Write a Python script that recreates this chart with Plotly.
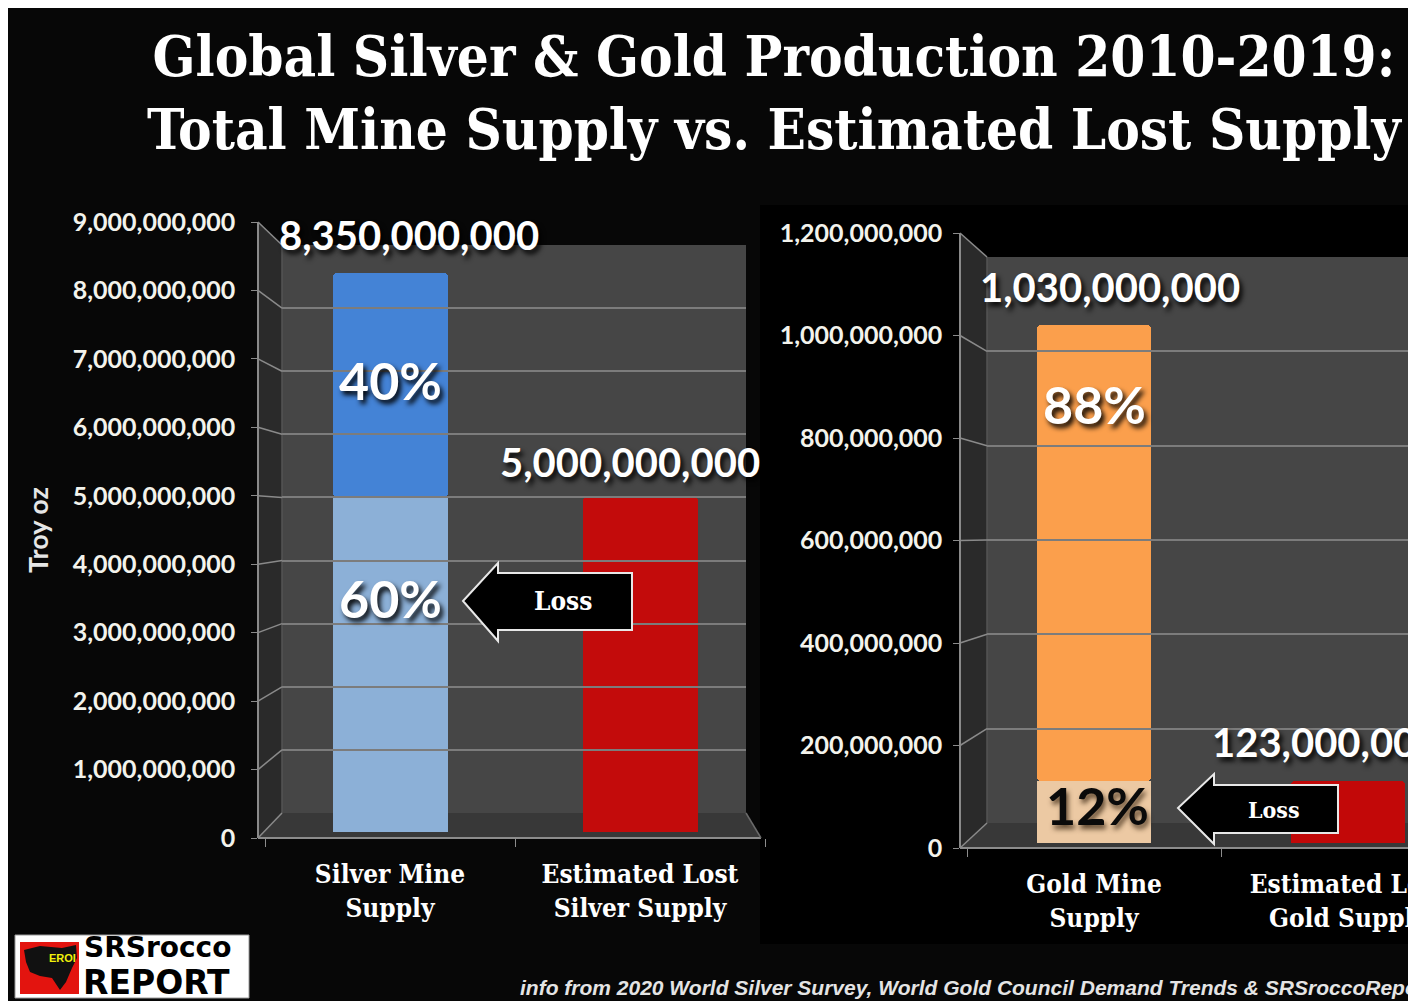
import plotly.graph_objects as go

W, H = 1408, 1001

# ---------------- data ----------------
title_lines = ["Global Silver & Gold Production 2010-2019:",
               "Total Mine Supply vs. Estimated Lost Supply"]
silver_categories = ["Silver Mine<br>Supply", "Estimated Lost<br>Silver Supply"]
gold_categories = ["Gold Mine<br>Supply", "Estimated Lost<br>Gold Supply"]
silver_total = 8_350_000_000
silver_lost = 5_000_000_000
gold_total = 1_030_000_000
gold_lost = 123_000_000
silver_ticks = [0, 1e9, 2e9, 3e9, 4e9, 5e9, 6e9, 7e9, 8e9, 9e9]
gold_ticks = [0, 2e8, 4e8, 6e8, 8e8, 1e9, 1.2e9]
y_title = "Troy oz"
arrow_label = "Loss"
source_note = "info from 2020 World Silver Survey, World Gold Council Demand Trends & SRSroccoReport"
logo_lines = ["SRSrocco", "REPORT"]
logo_badge = "EROI"

# ---------------- helpers ----------------
def px(x):
    return x / W

def py(y):
    return 1 - y / H

def dom(bottom_px, top_px):
    return [py(bottom_px), py(top_px)]

def path(points):
    return "M " + " L ".join(f"{px(a):.5f},{py(b):.5f}" for a, b in points) + " Z"

def lin(v, vmax, base_px, top_px):
    return base_px - v / vmax * (base_px - top_px)

NUM_FONT = "Lato, Open Sans, sans-serif"
SLAB_FONT = "DejaVu Serif Condensed, DejaVu Serif, serif"
SHADOW = "3px 4px 5px rgba(0,0,0,0.95)"

# geometry (pixels)
S_MAX, G_MAX = silver_ticks[-1], gold_ticks[-1]
S_FRONT = (838, 222); S_BACK = (813, 245); S_BAR = (832, 229)
G_FRONT = (848, 233); G_BACK = (823, 257); G_BAR = (843, 239)
S_AX_X, S_WALL_X0, S_WALL_X1, S_FLOOR_X1 = 258, 282, 746, 761
G_AX_X, G_WALL_X0 = 960, 987

fig = go.Figure()

# ---------------- bars ----------------
fig.add_trace(go.Bar(x=[silver_categories[0]], y=[silver_lost], width=0.46,
                     marker=dict(color="#8cb0d7", line=dict(width=0)),
                     xaxis="x", yaxis="y3", hoverinfo="skip"))
fig.add_trace(go.Bar(x=[silver_categories[0]], y=[silver_total - silver_lost], base=[silver_lost],
                     width=0.46, marker=dict(color="#4483d6", line=dict(width=0), cornerradius=4),
                     xaxis="x", yaxis="y3", hoverinfo="skip"))
fig.add_trace(go.Bar(x=[silver_categories[1]], y=[silver_lost], width=0.46,
                     marker=dict(color="#c30b0b", line=dict(width=0), cornerradius=4),
                     xaxis="x", yaxis="y3", hoverinfo="skip"))

fig.add_trace(go.Bar(x=[gold_categories[0]], y=[gold_lost], width=0.45,
                     marker=dict(color="#ecc9a3", line=dict(width=0)),
                     xaxis="x2", yaxis="y6", hoverinfo="skip"))
fig.add_trace(go.Bar(x=[gold_categories[0]], y=[gold_total - gold_lost], base=[gold_lost], width=0.45,
                     marker=dict(color="#fb9f4c", line=dict(width=0), cornerradius=4),
                     xaxis="x2", yaxis="y6", hoverinfo="skip"))
fig.add_trace(go.Bar(x=[gold_categories[1]], y=[gold_lost], width=0.45,
                     marker=dict(color="#c20808", line=dict(width=0), cornerradius=4),
                     xaxis="x2", yaxis="y6", hoverinfo="skip"))

# empty traces so every axis pair (front ticks, back-wall grid) gets its own subplot
for xa, ya in (("x", "y"), ("x2", "y4"), ("x3", "y2"), ("x4", "y5")):
    fig.add_trace(go.Scatter(x=[None], y=[None], xaxis=xa, yaxis=ya, hoverinfo="skip",
                             showlegend=False, mode="markers"))

# ---------------- shapes ----------------
shapes = []
shapes.append(dict(type="rect", xref="paper", yref="paper", x0=px(8), x1=1.01, y0=-0.01, y1=py(8),
                   fillcolor="#070707", line=dict(width=0), layer="below"))
shapes.append(dict(type="rect", xref="paper", yref="paper", x0=px(760), x1=1.01, y0=py(944), y1=py(205),
                   fillcolor="#000000", line=dict(width=0), layer="below"))

def panel(ax_x, wall_x0, wall_x1, floor_x1, front, back, vmax, ticks):
    shapes.append(dict(type="path", xref="paper", yref="paper",
                       path=path([(ax_x, front[1]), (wall_x0, back[1]), (wall_x0, back[0]), (ax_x, front[0])]),
                       fillcolor="#2a2a2a", line=dict(width=0), layer="below"))
    shapes.append(dict(type="rect", xref="paper", yref="paper", x0=px(wall_x0), x1=px(wall_x1),
                       y0=py(back[0]), y1=py(back[1]), fillcolor="#464646", line=dict(width=0), layer="below"))
    shapes.append(dict(type="path", xref="paper", yref="paper",
                       path=path([(ax_x, front[0]), (wall_x0, back[0]), (wall_x1, back[0]), (floor_x1, front[0])]),
                       fillcolor="#383838", line=dict(width=0), layer="below"))
    shapes.append(dict(type="line", xref="paper", yref="paper", x0=px(ax_x), x1=px(floor_x1),
                       y0=py(front[0]), y1=py(front[0]), line=dict(color="#8c8c8c", width=2), layer="below"))
    shapes.append(dict(type="line", xref="paper", yref="paper", x0=px(wall_x1), x1=px(floor_x1),
                       y0=py(back[0]), y1=py(front[0]), line=dict(color="#6a6a6a", width=1.5), layer="below"))
    shapes.append(dict(type="line", xref="paper", yref="paper", x0=px(wall_x0), x1=px(wall_x0),
                       y0=py(back[0]), y1=py(back[1]), line=dict(color="#555555", width=1.5), layer="below"))
    for v in ticks:
        shapes.append(dict(type="line", xref="paper", yref="paper",
                           x0=px(ax_x), y0=py(lin(v, vmax, *front)),
                           x1=px(wall_x0), y1=py(lin(v, vmax, *back)),
                           line=dict(color="#8a8a8a", width=1.5), layer="below"))

panel(S_AX_X, S_WALL_X0, S_WALL_X1, S_FLOOR_X1, S_FRONT, S_BACK, S_MAX, silver_ticks)
panel(G_AX_X, G_WALL_X0, W + 5, W + 5, G_FRONT, G_BACK, G_MAX, gold_ticks)

def arrow(tip, head_x, head_top, head_bot, body_top, body_bot, tail_x):
    return dict(type="path", xref="paper", yref="paper", layer="above",
                path=path([tip, (head_x, head_top), (head_x, body_top), (tail_x, body_top),
                           (tail_x, body_bot), (head_x, body_bot), (head_x, head_bot)]),
                fillcolor="#000000", line=dict(color="#e8e8e8", width=2))

shapes.append(arrow((463, 601), 498, 563, 641, 573, 630, 632))
shapes.append(arrow((1178, 808), 1214, 774, 844, 785, 833, 1338))

# logo
shapes.append(dict(type="rect", xref="paper", yref="paper", x0=px(15), x1=px(249), y0=py(998), y1=py(935),
                   fillcolor="#ffffff", line=dict(color="#9a9a9a", width=1), layer="above"))
shapes.append(dict(type="rect", xref="paper", yref="paper", x0=px(20), x1=px(79), y0=py(994), y1=py(942),
                   fillcolor="#e3140f", line=dict(width=0), layer="above"))
shapes.append(dict(type="path", xref="paper", yref="paper", layer="above",
                   path=path([(24, 950), (40, 946), (62, 948), (76, 945), (77, 958), (72, 968),
                              (66, 982), (60, 990), (52, 978), (40, 976), (30, 972), (26, 962)]),
                   fillcolor="#111111", line=dict(width=0)))

# ---------------- annotations ----------------
ann = []
ann.append(dict(text="<br>".join(title_lines), xref="paper", yref="paper", x=px(775), y=py(93),
                xanchor="center", yanchor="middle", showarrow=False, align="center",
                font=dict(family=SLAB_FONT, size=56, color="#ffffff", weight=900)))

def val_label(text, xref, yref, x, y, xshift, yshift, size=40):
    ann.append(dict(text=text, xref=xref, yref=yref, x=x, y=y, xshift=xshift, yshift=yshift,
                    showarrow=False, xanchor="center", yanchor="middle",
                    font=dict(family=NUM_FONT, size=size, color="#ffffff", weight=700, shadow=SHADOW)))

val_label(f"{silver_total:,}", "x", "y3", silver_categories[0], silver_total, 19, 38)
val_label(f"{silver_lost:,}", "x", "y3", silver_categories[1], silver_lost, -10, 35)
val_label(f"{gold_total:,}", "x2", "y6", gold_categories[0], gold_total, 16, 38)
val_label(f"{gold_lost:,}", "x2", "y6", gold_categories[1], gold_lost, -22, 39)

s_keep = round(100 * (silver_total - silver_lost) / silver_total)
s_lost = round(100 * silver_lost / silver_total)
g_keep = round(100 * (gold_total - gold_lost) / gold_total)
g_lost = round(100 * gold_lost / gold_total)

def pct(text, xref, yref, x, y, color, size=52):
    ann.append(dict(text=text, xref=xref, yref=yref, x=x, y=y, showarrow=False,
                    xanchor="center", yanchor="middle",
                    font=dict(family=NUM_FONT, size=size, color=color, weight=700, shadow=SHADOW)))

pct(f"{s_keep}%", "x", "y3", silver_categories[0], silver_lost + 0.52 * (silver_total - silver_lost), "#ffffff")
pct(f"{s_lost}%", "x", "y3", silver_categories[0], 0.70 * silver_lost, "#ffffff")
pct(f"{g_keep}%", "x2", "y6", gold_categories[0], gold_lost + 0.825 * (gold_total - gold_lost), "#ffffff")
ann.append(dict(text=f"{g_lost}%", xref="x2", yref="y6", x=gold_categories[0], y=0.62 * gold_lost,
                showarrow=False, xanchor="center", yanchor="middle", xshift=3,
                font=dict(family=NUM_FONT, size=52, color="#0a0a0a", weight=700,
                          shadow="2px 4px 5px rgba(60,40,20,0.8)")))

ann.append(dict(text=arrow_label, xref="paper", yref="paper", x=px(563), y=py(601), showarrow=False,
                xanchor="center", yanchor="middle",
                font=dict(family=SLAB_FONT, size=26, color="#ffffff", weight=700)))
ann.append(dict(text=arrow_label, xref="paper", yref="paper", x=px(1274), y=py(809), showarrow=False,
                xanchor="center", yanchor="middle",
                font=dict(family=SLAB_FONT, size=23, color="#ffffff", weight=700)))

ann.append(dict(text=source_note, xref="paper", yref="paper", x=px(518), y=py(987), showarrow=False,
                xanchor="left", yanchor="middle",
                font=dict(family="Liberation Sans, Arial, sans-serif", size=21, color="#e4e4e4",
                          style="italic", weight=700)))

ann.append(dict(text=logo_badge, xref="paper", yref="paper", x=px(47), y=py(966), showarrow=False,
                font=dict(family="Liberation Sans, Arial", size=11, color="#f2f20a", weight=700)))
ann.append(dict(text=logo_lines[0], xref="paper", yref="paper", x=px(82), y=py(947), showarrow=False,
                xanchor="left", yanchor="middle",
                font=dict(family="DejaVu Sans, Liberation Sans, Arial", size=28, color="#000000", weight=900)))
ann.append(dict(text=logo_lines[1], xref="paper", yref="paper", x=px(81), y=py(982), showarrow=False,
                xanchor="left", yanchor="middle",
                font=dict(family="DejaVu Sans, Liberation Sans, Arial", size=33, color="#000000", weight=900)))

# ---------------- axes ----------------
TICK_FONT = dict(family=NUM_FONT, size=25, color="#f3f3ec", weight=700)
CAT_FONT = dict(family=SLAB_FONT, size=26, color="#ffffff", weight=700)

layout_axes = dict(
    xaxis=dict(domain=[px(265), px(765)], anchor="y", type="category", automargin=False,
               categoryorder="array", categoryarray=silver_categories,
               range=[-0.5, 1.5], showline=False, showgrid=False, zeroline=False,
               ticks="outside", tickson="boundaries", ticklen=8, tickcolor="#8c8c8c",
               tickfont=CAT_FONT, ticklabelstandoff=18),
    yaxis=dict(domain=dom(*S_FRONT), anchor="free", position=px(S_AX_X), range=[0, S_MAX],
               automargin=False,
               tickvals=silver_ticks, tickformat=",d", showline=True, linecolor="#8a8a8a", linewidth=1.5,
               ticks="outside", ticklen=6, tickcolor="#8a8a8a", showgrid=False, zeroline=False,
               tickfont=TICK_FONT, ticklabelstandoff=11,
               title=dict(text=y_title, standoff=15,
                          font=dict(family=NUM_FONT, size=27, color="#e6e6e6", weight=700))),
    yaxis2=dict(domain=dom(*S_BACK), anchor="x3", range=[0, S_MAX], tickvals=silver_ticks,
                automargin=False,
                showgrid=True, gridcolor="#7c7c7c", gridwidth=2, showticklabels=False,
                zeroline=False, showline=False, ticks=""),
    xaxis3=dict(domain=[px(S_WALL_X0), px(S_WALL_X1)], anchor="y2", range=[0, 1], visible=False,
                automargin=False),
    yaxis3=dict(domain=dom(*S_BAR), anchor="x", range=[0, S_MAX], visible=False, automargin=False),
    xaxis2=dict(domain=[px(967), 1], anchor="y4", type="category", automargin=False,
                categoryorder="array", categoryarray=gold_categories,
                range=[-0.5, 1.236], showline=False, showgrid=False, zeroline=False,
                ticks="outside", tickson="boundaries", ticklen=8, tickcolor="#8c8c8c",
                tickfont=CAT_FONT, ticklabelstandoff=18),
    yaxis4=dict(domain=dom(*G_FRONT), anchor="free", position=px(G_AX_X), range=[0, G_MAX],
                automargin=False,
                tickvals=gold_ticks, tickformat=",d", showline=True, linecolor="#8a8a8a", linewidth=1.5,
                ticks="outside", ticklen=6, tickcolor="#8a8a8a", showgrid=False, zeroline=False,
                tickfont=TICK_FONT, ticklabelstandoff=6),
    yaxis5=dict(domain=dom(*G_BACK), anchor="x4", range=[0, G_MAX], tickvals=gold_ticks,
                automargin=False,
                showgrid=True, gridcolor="#7c7c7c", gridwidth=2, showticklabels=False,
                zeroline=False, showline=False, ticks=""),
    xaxis4=dict(domain=[px(G_WALL_X0), 1], anchor="y5", range=[0, 1], visible=False, automargin=False),
    yaxis6=dict(domain=dom(*G_BAR), anchor="x2", range=[0, G_MAX], visible=False, automargin=False),
)

fig.update_layout(
    width=W, height=H, margin=dict(l=0, r=0, t=0, b=0, autoexpand=False),
    paper_bgcolor="#ffffff", plot_bgcolor="rgba(0,0,0,0)",
    barmode="overlay", showlegend=False, bargap=0,
    shapes=shapes, annotations=ann, **layout_axes,
)

fig.write_html("out.html")
